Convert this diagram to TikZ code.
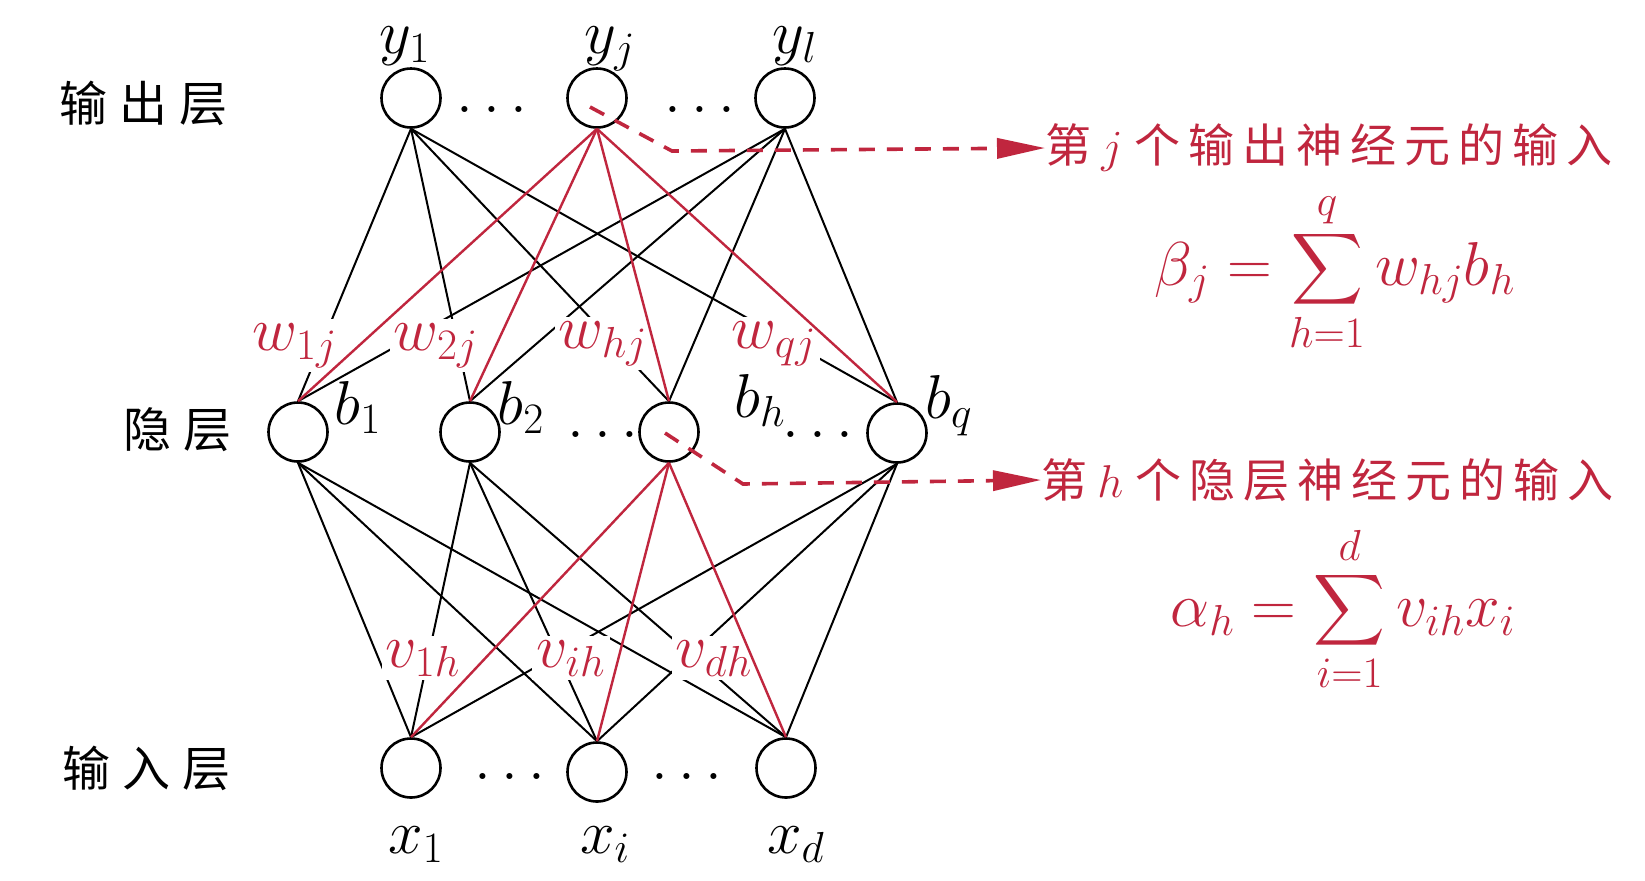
\RequirePackage{fix-cm}
\documentclass[tikz,border=0pt]{standalone}
\usepackage{amsmath}
\usepackage{fontspec}
\newfontfamily\cjk{Noto Sans CJK SC}
\usetikzlibrary{arrows.meta}
\definecolor{hred}{RGB}{192,38,62}
\newcommand\lsp{\hspace{4pt}}
\newcommand\Lsp{\hspace{6pt}}
\begin{document}
\begin{tikzpicture}[x=0.5pt,y=-0.5pt,
  neuron/.style={circle,draw=black,line width=1.3pt,minimum size=29.5pt,inner sep=0pt},
  edge/.style={line width=1pt,black},
  redge/.style={line width=1.2pt,hred},
  wlab/.style={fill=white,text=hred,inner sep=2pt,anchor=base,font=\fontsize{31}{36}\selectfont},
  nlab/.style={anchor=base,font=\fontsize{31}{36}\selectfont},
  layer/.style={font=\fontsize{24}{28}\selectfont\cjk},
  note/.style={anchor=west,text=hred,inner sep=0pt,font=\fontsize{23}{28}\selectfont\cjk},
  formula/.style={anchor=base,text=hred,font=\fontsize{31}{37}\selectfont},
  dline/.style={hred,line width=1.8pt,dash pattern=on 8pt off 6pt,-{Triangle[length=24pt,width=10pt]}}
]
\fill[white] (0,0) rectangle (1645,880);
\useasboundingbox (0,0) rectangle (1645,880);

% layer names
\node[layer] (Lout) at (144,103) {输\Lsp 出\Lsp 层};
\node[layer] (Lhid) at (177,430) {隐\Lsp 层};
\node[layer] (Lin)  at (146,768) {输\Lsp 入\Lsp 层};

% neurons
\node[neuron] (y1) at (411,98) {};
\node[neuron] (yj) at (597,98) {};
\node[neuron] (yl) at (785,98) {};
\node[neuron] (b1) at (298,432) {};
\node[neuron] (b2) at (470,432) {};
\node[neuron] (bh) at (669,432) {};
\node[neuron] (bq) at (897,433) {};
\node[neuron] (x1) at (411,768) {};
\node[neuron] (xi) at (597,772) {};
\node[neuron] (xd) at (786,768) {};

% black connections
\foreach \s in {y1,yl}{\foreach \t in {b1,b2,bh,bq}{\draw[edge] (\s.south) -- (\t.north);}}
\foreach \s in {b1,b2,bq}{\foreach \t in {x1,xi,xd}{\draw[edge] (\s.south) -- (\t.north);}}

% weight labels
\node[wlab] (w1) at (295,350) {$w_{1j}$};
\node[wlab] (w2) at (436,350) {$w_{2j}$};
\node[wlab] (wh) at (603,348) {$w_{hj}$};
\node[wlab] (wq) at (774,348) {$w_{qj}$};
\node[wlab] (v1) at (423,667) {$v_{1h}$};
\node[wlab] (vi) at (571,667) {$v_{ih}$};
\node[wlab] (vd) at (714,667) {$v_{dh}$};

% red connections
\foreach \t in {b1,b2,bh,bq}{\draw[redge] (yj.south) -- (\t.north);}
\foreach \t in {x1,xi,xd}{\draw[redge] (bh.south) -- (\t.north);}

% node labels
\node[nlab] (ty1) at (405,53) {$y_1$};
\node[nlab] (tyj) at (610,53) {$y_j$};
\node[nlab] (tyl) at (795,53) {$y_l$};
\node[nlab] (tb1) at (358,424) {$b_1$};
\node[nlab] (tb2) at (521,424) {$b_2$};
\node[nlab] (tbh) at (760,417) {$b_h$};
\node[nlab] (tbq) at (949,418) {$b_q$};
\node[nlab] (tx1) at (416,853) {$x_1$};
\node[nlab] (txi) at (605,853) {$x_i$};
\node[nlab] (txd) at (796,853) {$x_d$};

% dots
\node[nlab] (d1) at (492,112) {$\ldots$};
\node[nlab] (d2) at (700,112) {$\ldots$};
\node[nlab] (d3) at (603,437) {$\ldots$};
\node[nlab] (d4) at (818,437) {$\ldots$};
\node[nlab] (d5) at (510,779) {$\ldots$};
\node[nlab] (d6) at (687,779) {$\ldots$};

% annotations
\node[note] (n1) at (1045,148) {第\hspace{5pt}$j$\hspace{6pt}个\lsp 输\lsp 出\lsp 神\lsp 经\lsp 元\lsp 的\lsp 输\lsp 入};
\node[note] (n2) at (1041,480) {第\hspace{5pt}$h$\hspace{6pt}个\lsp 隐\lsp 层\lsp 神\lsp 经\lsp 元\lsp 的\lsp 输\lsp 入};
\node[formula] (f1) at (1335,285) {$\displaystyle \beta_j=\sum_{h=1}^{q} w_{hj}b_h$};
\node[formula] (f2) at (1343,626) {$\displaystyle \alpha_h=\sum_{i=1}^{d} v_{ih}x_i$};

% dashed arrows
\coordinate (s1) at (590,107);
\coordinate (c1) at (672,151);
\coordinate (s2) at (665,433);
\coordinate (c2) at (743,484);
\draw[dline] (s1) -- (c1) -- (n1.west);
\draw[dline] (s2) -- (c2) -- (n2.west);
\end{tikzpicture}
\end{document}
